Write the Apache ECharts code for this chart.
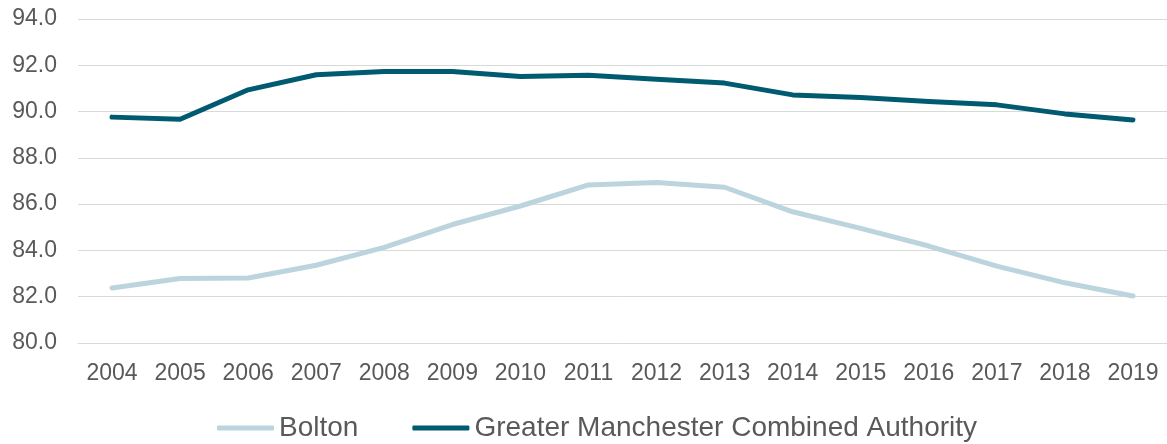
<!DOCTYPE html>
<html>
<head>
<meta charset="utf-8">
<title>Bolton vs Greater Manchester</title>
<script src="https://cdn.jsdelivr.net/npm/echarts@6/dist/echarts.min.js"></script>
<style>
    html, body { margin: 0; padding: 0; background: #fff; }
    #chart { width: 1167px; height: 444px; }
</style>
</head>
<body>
<div id="chart"></div>
<script>
/* data */
var years = ['2004', '2005', '2006', '2007', '2008', '2009', '2010', '2011',
             '2012', '2013', '2014', '2015', '2016', '2017', '2018', '2019'];
var bolton = [82.38, 82.79, 82.81, 83.36, 84.13, 85.12, 85.92, 86.83,
              86.94, 86.73, 85.67, 84.95, 84.19, 83.32, 82.60, 82.03];
var gmca = [89.76, 89.67, 90.94, 91.59, 91.73, 91.73, 91.52, 91.57,
            91.40, 91.23, 90.72, 90.61, 90.43, 90.29, 89.90, 89.64];
var yTicks = { min: 80, max: 94, step: 2 };

var box = document.getElementById('chart');
var myChart = echarts.init(box);

var font = '"Liberation Sans", Arial, Helvetica, sans-serif';
var labelColor = '#595959';
var gridColor = '#d9d9d9';

var option = {
    animation: false,
    backgroundColor: '#fff',
    textStyle: { fontFamily: font },
    grid: {
        left: 78,
        right: 0,
        top: 19,
        bottom: 101
    },
    legend: {
        top: 414,
        left: 217,
        padding: 0,
        icon: 'roundRect',
        itemWidth: 57,
        itemHeight: 5,
        itemGap: 54,
        textStyle: { fontSize: 28, color: labelColor, fontFamily: font },
        data: ['Bolton', 'Greater Manchester Combined Authority']
    },
    xAxis: {
        type: 'category',
        data: years,
        boundaryGap: true,
        axisLine: { show: true, lineStyle: { color: gridColor, width: 1 } },
        axisTick: { show: false },
        axisLabel: { color: labelColor, fontSize: 23, margin: 19, fontFamily: font }
    },
    yAxis: {
        type: 'value',
        min: yTicks.min,
        max: yTicks.max,
        interval: yTicks.step,
        axisLine: { show: false },
        axisTick: { show: false },
        splitLine: { lineStyle: { color: gridColor, width: 1 } },
        axisLabel: {
            color: labelColor, fontSize: 23, margin: 21, fontFamily: font,
            formatter: function (v) { return v.toFixed(1); }
        }
    },
    series: [
        {
            name: 'Bolton',
            type: 'line',
            data: bolton,
            symbol: 'none',
            color: '#bcd4de',
            lineStyle: { width: 5, color: '#bcd4de', cap: 'round', join: 'round' }
        },
        {
            name: 'Greater Manchester Combined Authority',
            type: 'line',
            data: gmca,
            symbol: 'none',
            color: '#005a70',
            lineStyle: { width: 5, color: '#005a70', cap: 'round', join: 'round' }
        }
    ]
};

myChart.setOption(option);
</script>
</body>
</html>
